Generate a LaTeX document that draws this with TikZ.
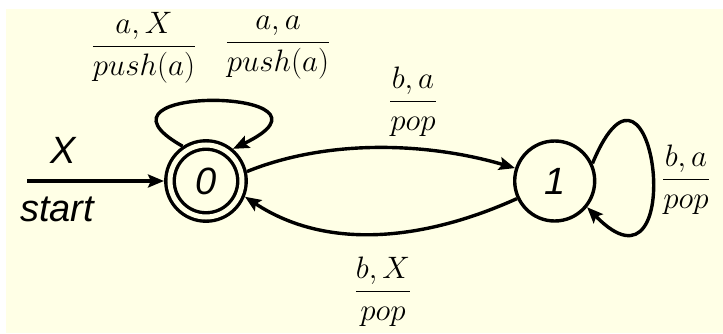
\RequirePackage{fix-cm}
\documentclass[tikz,border=0pt]{standalone}
\usepackage{fontspec}
\usepackage{amsmath}
\usetikzlibrary{positioning,arrows.meta}
\newfontfamily\statefont{Liberation Sans}
\definecolor{SlideCream}{HTML}{FFFFE6}

\begin{document}
\begin{tikzpicture}[x=1pt, y=1pt,
    state/.style={
      circle, draw, line width=3.4pt, minimum size=80pt, inner sep=0pt,
      font={\fontsize{38}{44}\statefont\itshape}
    },
    accept/.style={state, double=SlideCream, double distance=5pt,
      minimum size=72pt, outer sep=6pt},
    sans/.style={font={\fontsize{38}{44}\statefont\itshape}, inner sep=0pt},
    lbl/.style={font=\fontsize{31}{37}\selectfont, inner sep=0pt},
    arr/.style={-{Stealth[length=16pt,width=13pt,inset=3pt]}, line width=3.4pt}
  ]
  \fill[white] (0,0) rectangle (723,333);
  \fill[SlideCream] (6,0) rectangle (723,324);
  \useasboundingbox (0,0) rectangle (723,333);

  % states
  \node[accept] (q0) at (206,152) {0};
  \node[state, right=265pt of q0] (q1) {1};

  % start arrow
  \coordinate (startpt) at (27,152);
  \node[sans] (inputX) at (63,183) {X};
  \node[sans] (startlbl) at (57,124) {start};

  % transition labels
  \node[lbl] (lblaX) at (144,285) {$\dfrac{a,X}{push(a)}$};
  \node[lbl] (lblaa) at (278,285) {$\dfrac{a,a}{push(a)}$};
  \node[lbl] (lblba) at (413,231) {$\dfrac{b,a}{pop}$};
  \node[lbl] (lblbX) at (383,41) {$\dfrac{b,X}{pop}$};
  \node[lbl] (lblloop) at (686,153) {$\dfrac{b,a}{pop}$};

  % transitions
  \draw[arr] (startpt) -- (q0);
  \draw[arr] (q0.124) .. controls (70,250) and (360,245) .. (q0.50);
  \draw[arr] (q0.13) .. controls (330,195) and (430,190) .. (q1.162);
  \draw[arr] (q1.205) .. controls (430,95) and (330,80) .. (q0.338);
  \draw[arr] (q1.25) .. controls (655,320) and (690,20) .. (q1.321);
\end{tikzpicture}
\end{document}
